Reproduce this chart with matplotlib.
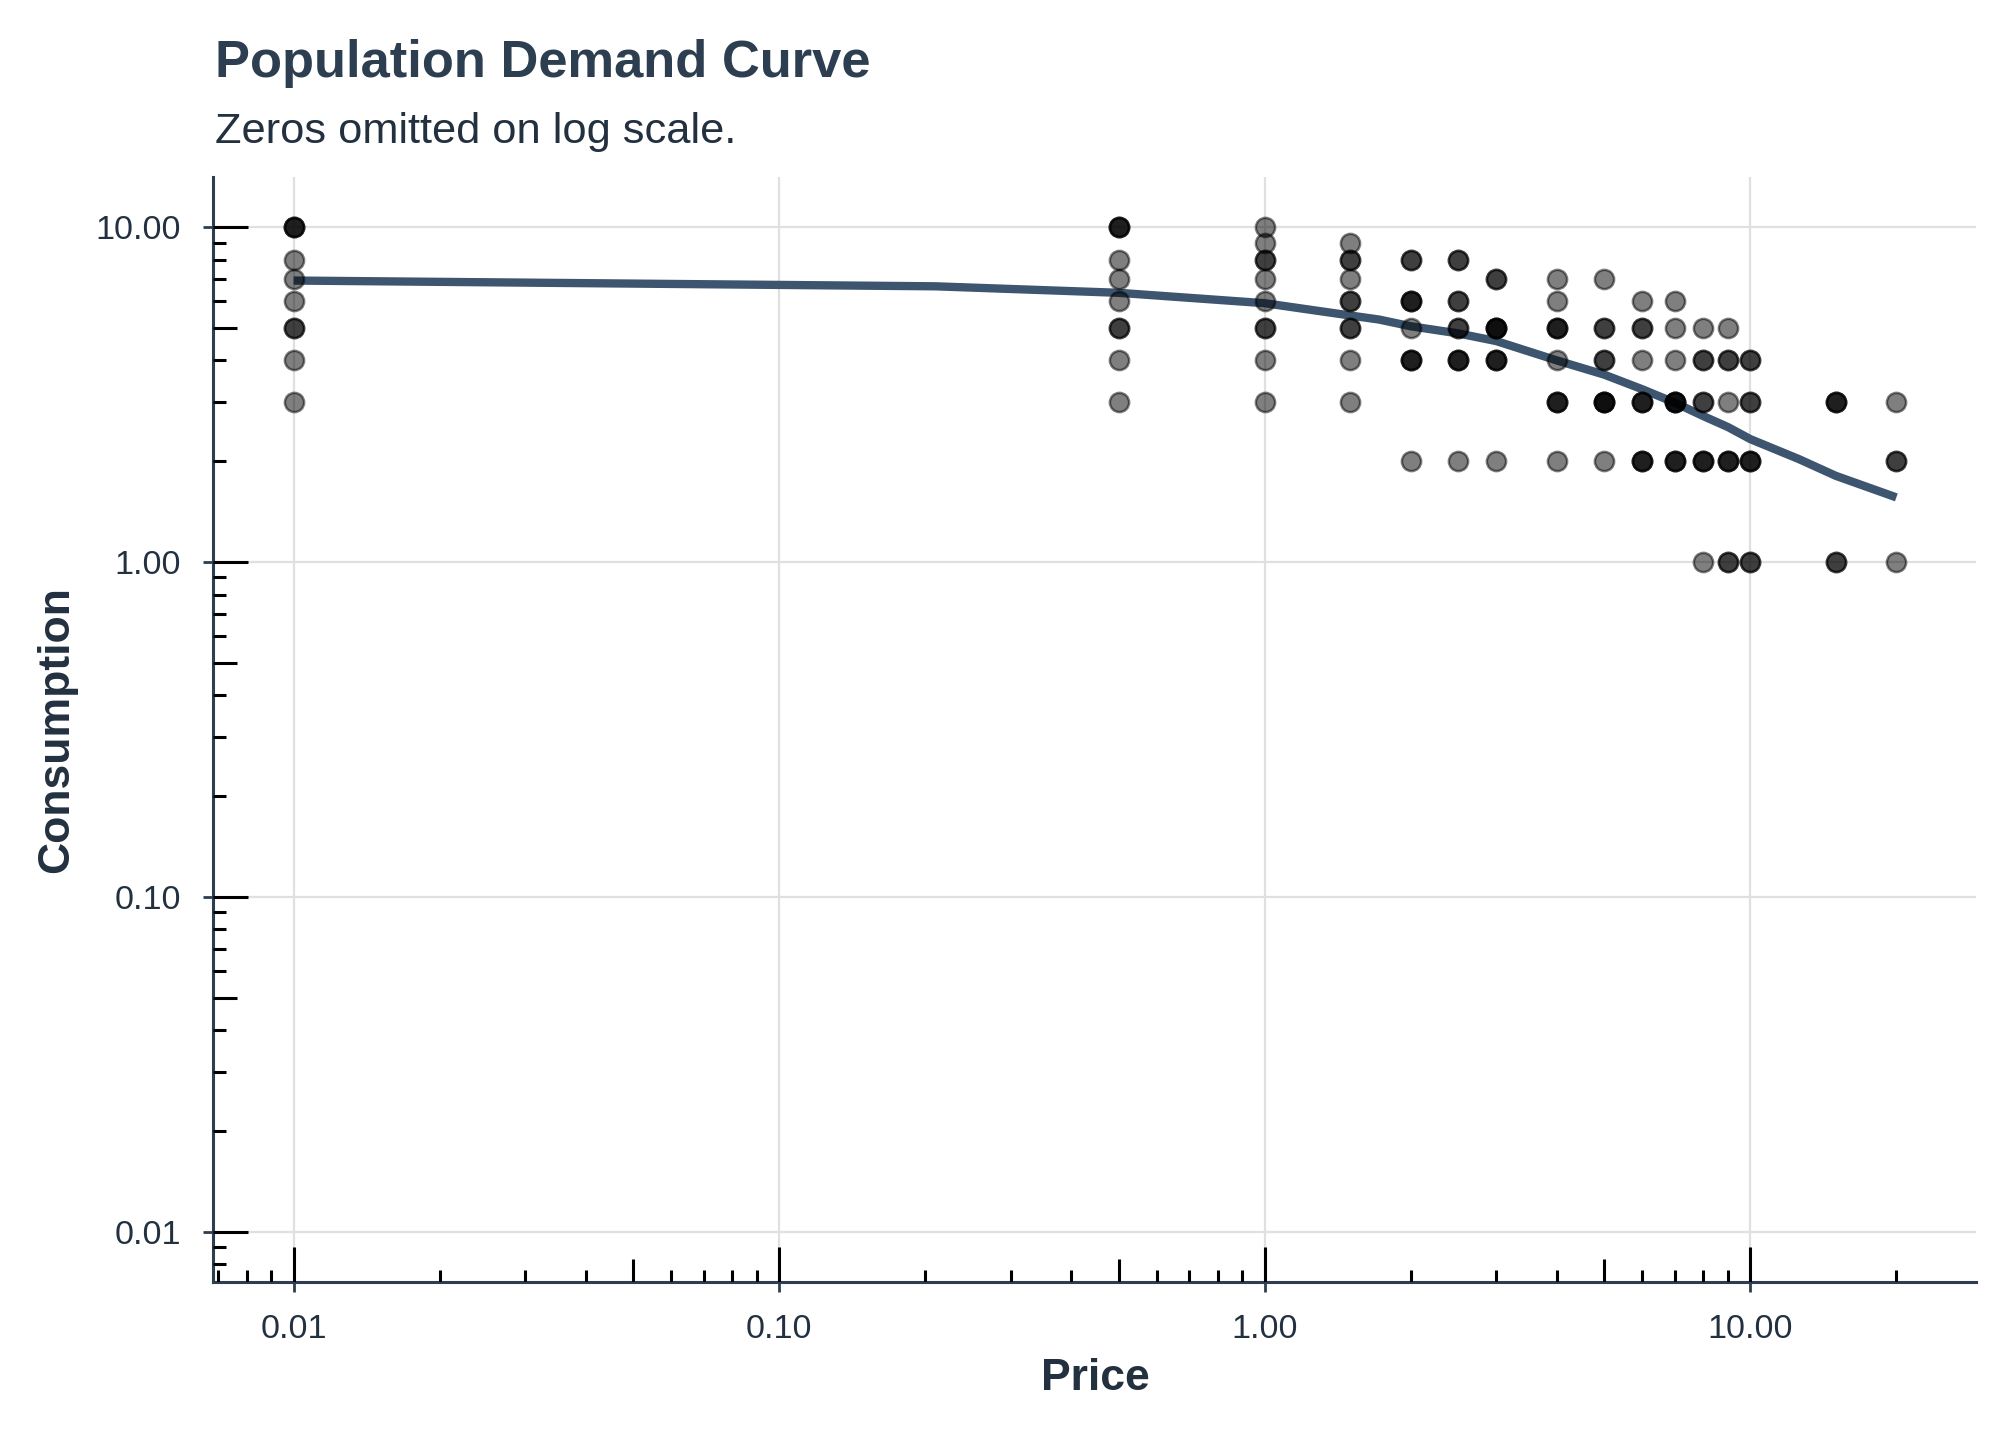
import numpy as np
import matplotlib.pyplot as plt
from matplotlib.ticker import FixedLocator, NullLocator, FuncFormatter

plt.rcParams['font.family'] = ['Liberation Sans', 'DejaVu Sans']

# observed consumption at each price (one entry per subject, zeros left out)
prices = [0.01, 0.5, 1, 1.5, 2, 2.5, 3, 4, 5, 6, 7, 8, 9, 10, 15, 20]
c_001 = [10, 10, 10, 8, 7, 6, 5, 5, 4, 3]
c_050 = [10, 10, 10, 8, 7, 6, 5, 5, 4, 3]
c_100 = [10, 9, 8, 8, 7, 6, 5, 5, 4, 3]
c_150 = [9, 8, 8, 7, 6, 6, 5, 5, 4, 3]
c_200 = [8, 8, 6, 6, 6, 5, 4, 4, 4, 2]
c_250 = [8, 8, 6, 6, 5, 5, 4, 4, 4, 2]
c_300 = [7, 7, 5, 5, 5, 5, 4, 4, 4, 2]
c_400 = [7, 6, 5, 5, 5, 4, 3, 3, 3, 2]
c_500 = [7, 5, 5, 4, 4, 3, 3, 3, 3, 2]
c_600 = [6, 5, 5, 4, 3, 3, 3, 2, 2, 2]
c_700 = [6, 5, 4, 3, 3, 3, 3, 2, 2, 2]
c_800 = [5, 4, 4, 3, 3, 2, 2, 2, 1]
c_900 = [5, 4, 4, 3, 2, 2, 2, 1, 1]
c_1000 = [4, 4, 3, 3, 2, 2, 2, 1, 1]
c_1500 = [3, 3, 3, 1, 1]
c_2000 = [3, 2, 2, 1]
consumption = [c_001, c_050, c_100, c_150, c_200, c_250, c_300, c_400,
               c_500, c_600, c_700, c_800, c_900, c_1000, c_1500, c_2000]

# fitted population curve
curve_price = [0.01, 0.21, 0.5, 1, 1.5, 1.72, 2, 2.5, 3, 4, 5, 6, 7, 8, 9, 10, 12.6, 15, 20]
curve_cons = [6.93, 6.66, 6.37, 5.93, 5.45, 5.30, 5.06, 4.82, 4.57, 4.0, 3.63, 3.28,
              2.99, 2.73, 2.53, 2.33, 2.03, 1.81, 1.56]

major = [0.01, 0.1, 1, 10]

navy = '#2c3e50'
text_col = '#22303f'

obs_x = [p for p, cs in zip(prices, consumption) for _ in cs]
obs_y = [c for cs in consumption for c in cs]

fig = plt.figure(figsize=(10.08, 7.2), dpi=200)
ax = fig.add_axes([0.1059, 0.1097, 0.8745, 0.7674])
ax.set_xscale('log')
ax.set_yscale('log')

# ggplot style 5% expansion in log space
lx = np.log10([min(prices), max(prices)])
dx = (lx[1] - lx[0]) * 0.05
ax.set_xlim(10 ** (lx[0] - dx), 10 ** (lx[1] + dx))
ly = np.log10([0.01, 10])
dy = (ly[1] - ly[0]) * 0.05
ax.set_ylim(10 ** (ly[0] - dy), 10 ** (ly[1] + dy))

for v in major:
    ax.axvline(v, color='#e0e0e0', lw=0.8, zorder=0)
    ax.axhline(v, color='#e0e0e0', lw=0.8, zorder=0)

ax.plot(curve_price, curve_cons, color='#3d556e', lw=3.0, zorder=2,
        solid_capstyle='butt')
ax.scatter(obs_x, obs_y, s=48, facecolor='black', edgecolor='black',
           linewidths=0.9, alpha=0.5, zorder=3)

# log ticks drawn inside the panel
xt = ax.get_xaxis_transform()
yt = ax.get_yaxis_transform()
for dec in [0.001, 0.01, 0.1, 1, 10]:
    for m in range(1, 10):
        v = dec * m
        if m == 1:
            lx_, ly_ = 0.0317, 0.0198
        elif m == 5:
            lx_, ly_ = 0.021, 0.0135
        else:
            lx_, ly_ = 0.011, 0.0072
        ax.plot([v, v], [0, lx_], transform=xt, color='black', lw=1.1,
                solid_capstyle='butt', clip_on=True, zorder=4)
        ax.plot([0, ly_], [v, v], transform=yt, color='black', lw=1.1,
                solid_capstyle='butt', clip_on=True, zorder=4)

fmt = FuncFormatter(lambda v, pos: f'{v:.2f}')
for axis in (ax.xaxis, ax.yaxis):
    axis.set_major_locator(FixedLocator(major))
    axis.set_minor_locator(NullLocator())
    axis.set_major_formatter(fmt)
ax.tick_params(axis='both', which='major', direction='out', length=3.6,
               width=1.0, color=navy, labelsize=12.3, labelcolor=text_col, pad=8)

for s in ['top', 'right']:
    ax.spines[s].set_visible(False)
for s in ['left', 'bottom']:
    ax.spines[s].set_color(navy)
    ax.spines[s].set_linewidth(1.1)

fig.text(0.1066, 0.9465, 'Population Demand Curve', fontsize=18.9,
         fontweight='bold', color=navy, va='baseline', ha='left')
fig.text(0.1066, 0.9007, 'Zeros omitted on log scale.', fontsize=15.6,
         color=text_col, va='baseline', ha='left')
fig.text(0.5431, 0.0347, 'Price', fontsize=16, fontweight='bold',
         color=text_col, va='baseline', ha='center')
fig.text(0.028, 0.4934, 'Consumption', fontsize=16, fontweight='bold',
         color=text_col, va='center', ha='center', rotation=90)

fig.savefig('out.png', dpi=200)
